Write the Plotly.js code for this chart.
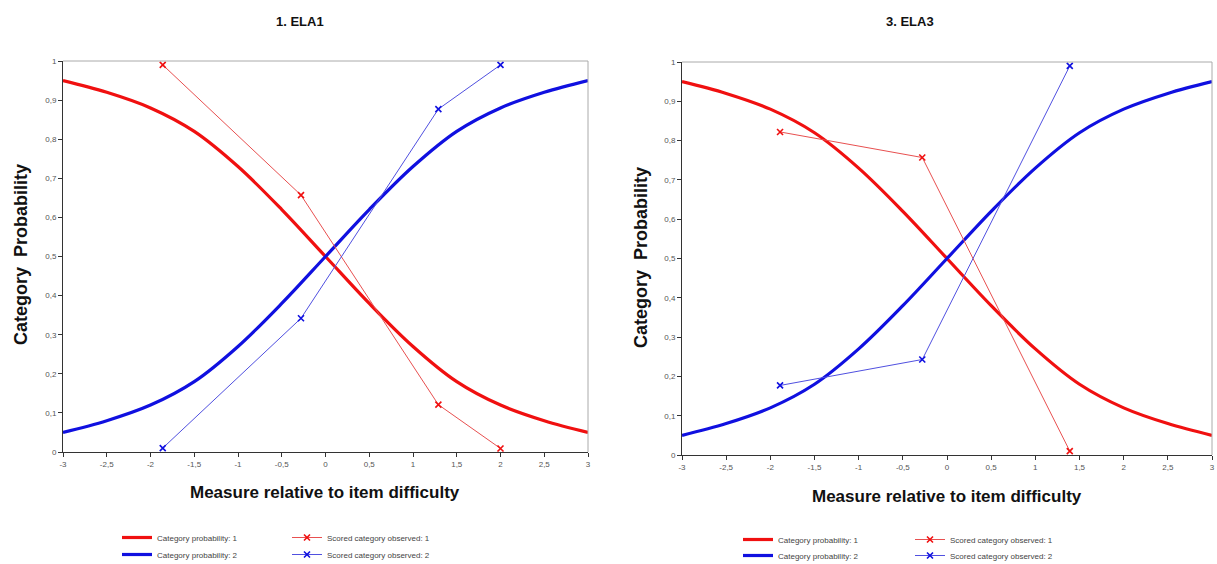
<!DOCTYPE html>
<html>
<head>
<meta charset="utf-8">
<script src="https://cdn.plot.ly/plotly-3.0.1.min.js"></script>
<style>html,body{margin:0;padding:0;background:#fff;}#chart{width:1217px;height:564px;}</style>
</head>
<body>
<div id="chart"></div>
<script>
// Model curves
const curveX   = [-3, -2.5, -2, -1.5, -1, -0.5, 0, 0.5, 1, 1.5, 2, 2.5, 3];
const catProb1 = [0.95, 0.92, 0.88, 0.82, 0.73, 0.62, 0.50, 0.38, 0.27, 0.18, 0.12, 0.08, 0.05];
const catProb2 = [0.05, 0.08, 0.12, 0.18, 0.27, 0.38, 0.50, 0.62, 0.73, 0.82, 0.88, 0.92, 0.95];

// Observed points, chart 1 (ELA1)
const obsX1  = [-1.86, -0.28, 1.29, 2.0];
const obs1_1 = [0.99, 0.657, 0.121, 0.009];
const obs1_2 = [0.01, 0.342, 0.877, 0.99];

// Observed points, chart 3 (ELA3)
const obsX3  = [-1.89, -0.28, 1.39];
const obs3_1 = [0.822, 0.757, 0.01];
const obs3_2 = [0.177, 0.243, 0.99];

const xTickVals = [-3, -2.5, -2, -1.5, -1, -0.5, 0, 0.5, 1, 1.5, 2, 2.5, 3];
const xTickText = ["-3", "-2,5", "-2", "-1,5", "-1", "-0,5", "0", "0,5", "1", "1,5", "2", "2,5", "3"];
const yTickVals = [0, 0.1, 0.2, 0.3, 0.4, 0.5, 0.6, 0.7, 0.8, 0.9, 1];
const yTickText = ["0", "0,1", "0,2", "0,3", "0,4", "0,5", "0,6", "0,7", "0,8", "0,9", "1"];

const titles = ["1. ELA1", "3. ELA3"];
const yTitle = "Category  Probability";
const xTitle = "Measure relative to item difficulty";
const names = ["Category probability: 1", "Category probability: 2", "Scored category observed: 1", "Scored category observed: 2"];

const RED = "#f01010", BLUE = "#1010e0";
const W = 1217, H = 564;
const px = v => v / W, py = v => 1 - v / H;

function curveTrace(y, color, name, xa, ya, lg) {
  return {x: curveX, y: y, type: "scatter", mode: "lines", name: name,
    line: {color: color, width: 3.2, shape: "spline", smoothing: 1}, xaxis: xa, yaxis: ya,
    legend: lg, showlegend: true};
}
function obsTrace(x, y, color, lcolor, name, xa, ya, lg) {
  return {x: x, y: y, type: "scatter", mode: "lines+markers", name: name,
    line: {color: lcolor, width: 1},
    marker: {symbol: "x-thin", size: 6, color: color, line: {color: color, width: 1.6}},
    xaxis: xa, yaxis: ya, legend: lg, showlegend: true};
}

const data = [
  curveTrace(catProb1, RED, names[0], "x", "y", "legend"),
  curveTrace(catProb2, BLUE, names[1], "x", "y", "legend2"),
  obsTrace(obsX1, obs1_1, RED, "#e85050", names[2], "x", "y", "legend3"),
  obsTrace(obsX1, obs1_2, BLUE, "#5050e0", names[3], "x", "y", "legend4"),
  curveTrace(catProb1, RED, names[0], "x2", "y2", "legend5"),
  curveTrace(catProb2, BLUE, names[1], "x2", "y2", "legend6"),
  obsTrace(obsX3, obs3_1, RED, "#e85050", names[2], "x2", "y2", "legend7"),
  obsTrace(obsX3, obs3_2, BLUE, "#5050e0", names[3], "x2", "y2", "legend8")
];

const tickFont = {family: "Liberation Sans, Arial, sans-serif", size: 8, color: "#555"};
function xAxis(dom, anchor) {
  return {domain: dom, anchor: anchor, range: [-3, 3], tickvals: xTickVals, ticktext: xTickText,
    showgrid: false, zeroline: false, showline: true, linecolor: "#333", linewidth: 1,
    ticks: "outside", ticklen: 4, tickcolor: "#333", tickfont: tickFont, fixedrange: true, automargin: false};
}
function yAxis(dom, anchor) {
  return {domain: dom, anchor: anchor, range: [0, 1], tickvals: yTickVals, ticktext: yTickText,
    showgrid: false, zeroline: false, showline: true, linecolor: "#333", linewidth: 1,
    ticks: "outside", ticklen: 4, tickcolor: "#333", tickfont: tickFont, fixedrange: true, automargin: false};
}

const boldFont = (s) => ({family: "Liberation Sans, Arial, sans-serif", size: s, color: "#111", weight: "bold"});
const legFont = {family: "Liberation Sans, Arial, sans-serif", size: 8, color: "#444"};
function legend(xp, ytop) {
  return {x: px(xp), y: py(ytop), xanchor: "left", yanchor: "top", orientation: "v", visible: true,
    font: legFont, bgcolor: "rgba(0,0,0,0)", itemwidth: 30, tracegroupgap: 0};
}
function ann(text, x, y, size, angle) {
  return {text: text, x: px(x), y: py(y), xref: "paper", yref: "paper", showarrow: false,
    xanchor: "center", yanchor: "middle", textangle: angle || 0, font: boldFont(size)};
}

const layout = {
  width: W, height: H,
  showlegend: true,
  margin: {l: 0, r: 0, t: 0, b: 0, autoexpand: false},
  paper_bgcolor: "#fff", plot_bgcolor: "#fff",
  xaxis: xAxis([px(63), px(588)], "y"),
  yaxis: yAxis([py(452), py(61)], "x"),
  xaxis2: xAxis([px(682), px(1212)], "y2"),
  yaxis2: yAxis([py(455), py(62)], "x2"),
  legend:  legend(117, 523),
  legend2: legend(117, 540),
  legend3: legend(287, 523),
  legend4: legend(287, 540),
  legend5: legend(738, 525),
  legend6: legend(738, 541),
  legend7: legend(910, 525),
  legend8: legend(910, 541),
  shapes: [
    {type: "line", xref: "x domain", yref: "y domain", x0: 0, x1: 1, y0: 1, y1: 1, line: {color: "#aaa", width: 1}},
    {type: "line", xref: "x domain", yref: "y domain", x0: 1, x1: 1, y0: 0, y1: 1, line: {color: "#aaa", width: 1}},
    {type: "line", xref: "x2 domain", yref: "y2 domain", x0: 0, x1: 1, y0: 1, y1: 1, line: {color: "#aaa", width: 1}},
    {type: "line", xref: "x2 domain", yref: "y2 domain", x0: 1, x1: 1, y0: 0, y1: 1, line: {color: "#aaa", width: 1}}
  ],
  annotations: [
    ann(titles[0], 300, 21, 13),
    ann(titles[1], 910, 21, 13),
    ann(yTitle, 21, 255, 18, -90),
    ann(yTitle, 641, 258, 18, -90),
    ann(xTitle, 325, 492, 17),
    ann(xTitle, 947, 496, 17)
  ]
};

Plotly.newPlot("chart", data, layout, {displayModeBar: false, staticPlot: true});
</script>
</body>
</html>
